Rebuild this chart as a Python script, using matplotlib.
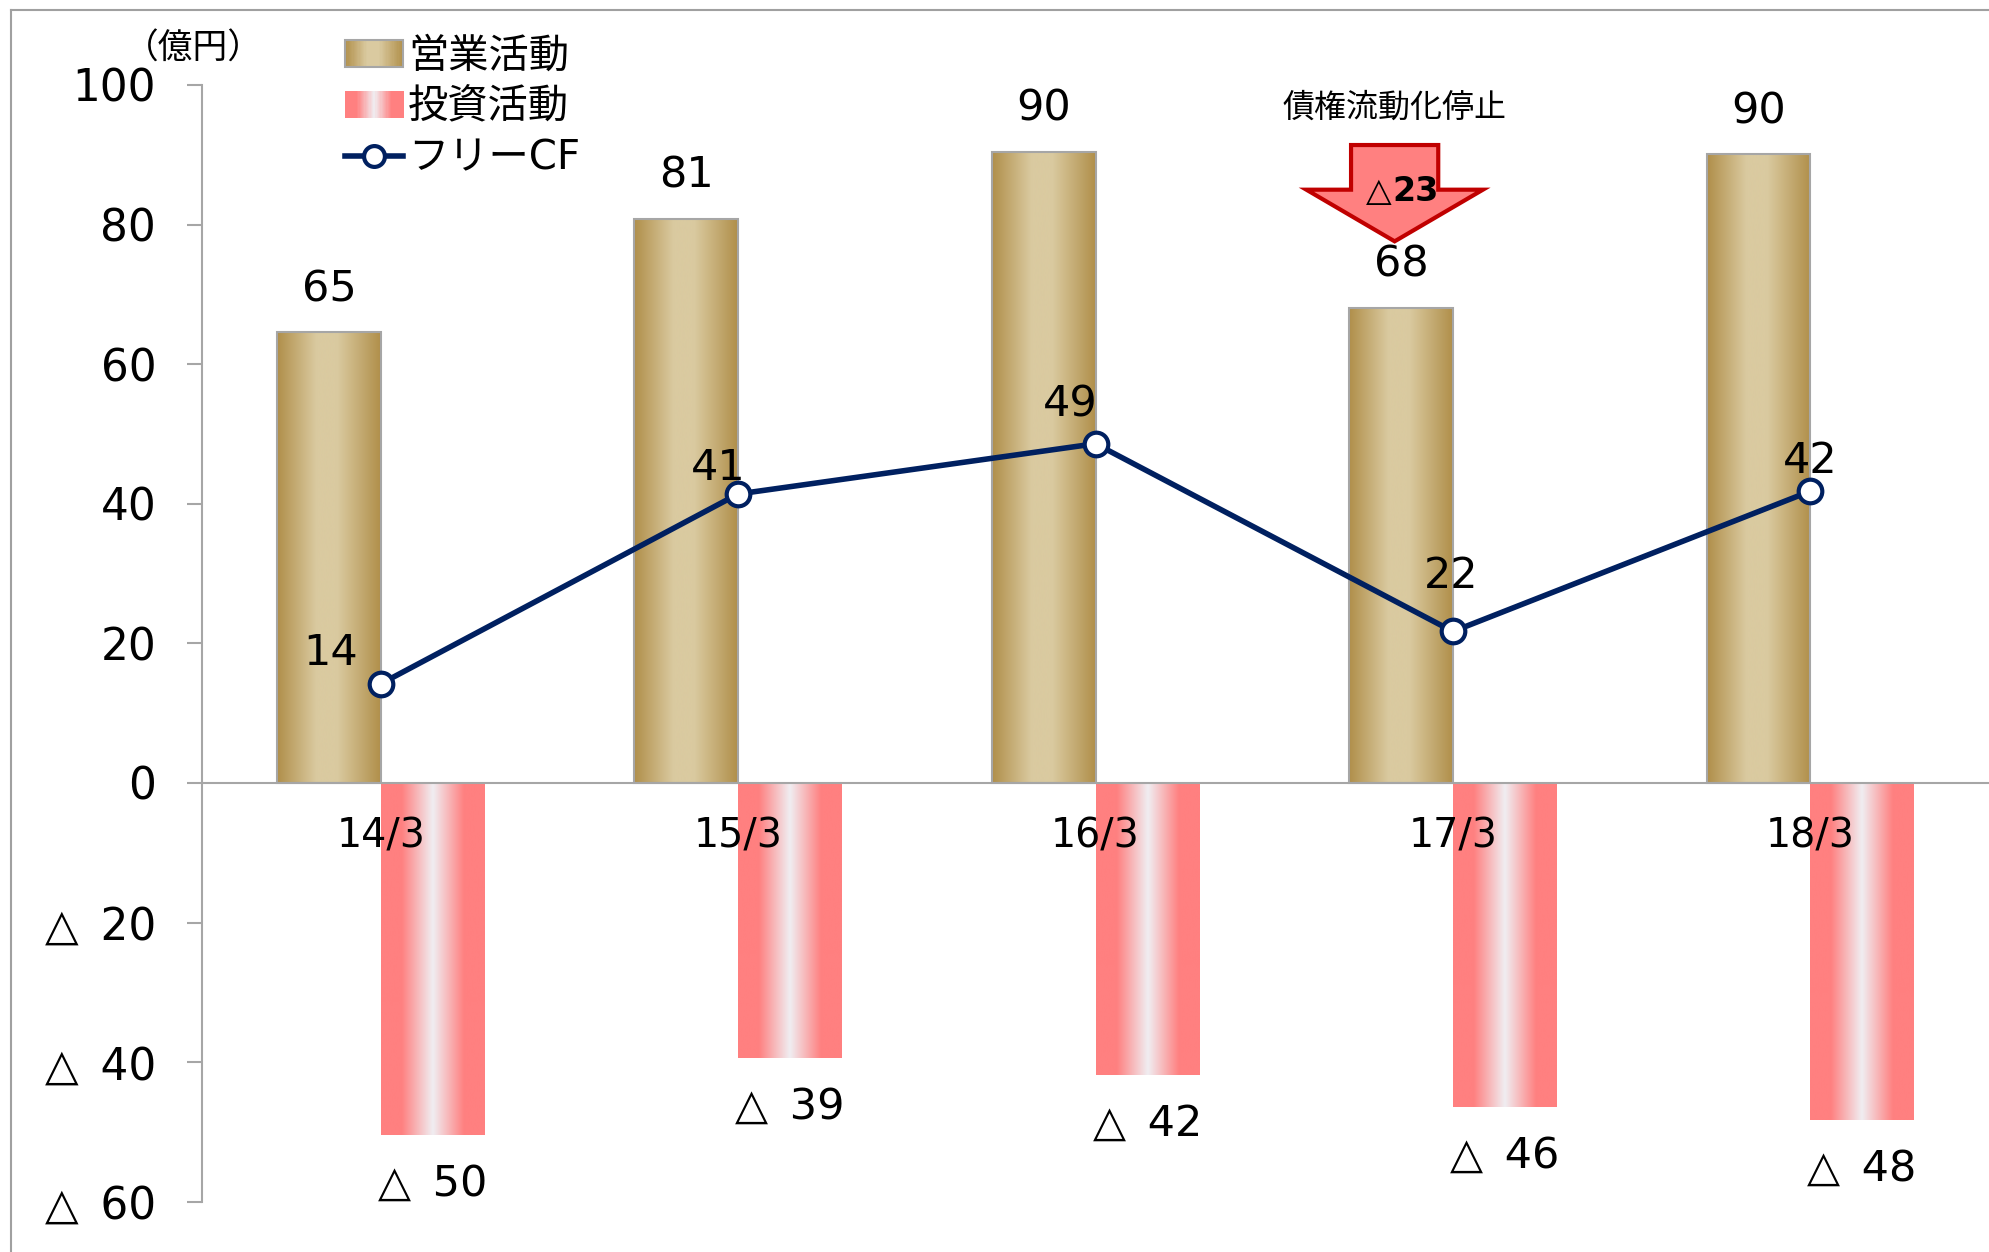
import numpy as np
import matplotlib
matplotlib.use('Agg')
import matplotlib.pyplot as plt
from matplotlib.colors import LinearSegmentedColormap
from matplotlib.patches import Rectangle, Polygon
from matplotlib.legend_handler import HandlerBase
from matplotlib.lines import Line2D

plt.rcParams['font.family'] = ['DejaVu Sans', 'Noto Sans CJK JP']

# --- data (億円) ---
periods = ['14/3', '15/3', '16/3', '17/3', '18/3']
operating = [64.6, 80.8, 90.4, 68.1, 90.1]
investing = [-50.4, -39.4, -41.8, -46.4, -48.3]
free_cf = [14.2, 41.4, 48.6, 21.7, 41.8]
y_ticks = [-60, -40, -20, 0, 20, 40, 60, 80, 100]

note_text = '債権流動化停止'
note_drop = 23
note_idx = 3

# label offsets for the free CF values (points)
fcf_offsets = [(-36, 22), (-14, 19), (-18, 28), (-1, 40), (0, 22)]

gold = LinearSegmentedColormap.from_list(
    'gold', [(0, '#B08F4A'), (0.38, '#DACAA0'), (0.58, '#DACAA0'), (1, '#B08F4A')])
pink = LinearSegmentedColormap.from_list(
    'pink', [(0, '#FF8080'), (0.2, '#FF8080'), (0.5, '#F0EEF2'), (0.8, '#FF8080'), (1, '#FF8080')])
navy = '#002060'
grey = '#A6A6A6'


def tri(v):
    # negative numbers are written with a triangle, Japanese style
    return f'△\u2002{abs(v)}' if v < 0 else f'{v}'


def grad_bar(ax, x, h, w, cmap, edge):
    ax.bar(x, h, w, color='none', edgecolor=edge, linewidth=1.5, zorder=3)
    grad = np.linspace(0, 1, 256).reshape(1, -1)
    ax.imshow(grad, cmap=cmap, extent=(x - w / 2, x + w / 2, min(0, h), max(0, h)),
              aspect='auto', zorder=2, interpolation='bicubic')


class GradientHandler(HandlerBase):
    def __init__(self, cmap, edge=None):
        super().__init__()
        self.cmap = cmap
        self.edge = edge

    def create_artists(self, legend, orig_handle, xdescent, ydescent, width, height, fontsize, trans):
        n = 48
        x0, y0 = -xdescent, -ydescent
        arts = []
        for i in range(n):
            arts.append(Rectangle((x0 + i * width / n, y0), width / n * 1.1, height,
                                  facecolor=self.cmap((i + 0.5) / n), edgecolor='none', transform=trans))
        if self.edge:
            arts.append(Rectangle((x0, y0), width, height, facecolor='none',
                                  edgecolor=self.edge, lw=1.5, transform=trans))
        return arts


W, H = 1989, 1252
fig = plt.figure(figsize=(W / 100, H / 100), dpi=100)
ax = fig.add_axes([202 / W, 1 - 1201.7 / H, 1 - 202 / W, (1201.7 - 85) / H])

x = np.arange(len(periods))
w = 0.29
for i in x:
    grad_bar(ax, i - w / 2, operating[i], w, gold, grey)
    grad_bar(ax, i + w / 2, investing[i], w, pink, 'none')

ax.axhline(0, color=grey, lw=1.5, zorder=4)
ax.plot(x, free_cf, color=navy, lw=4, marker='o', ms=17, mfc='white', mec=navy, mew=3, zorder=6)

# value labels
for i in x:
    ax.annotate(tri(round(operating[i])), (i - w / 2, operating[i]), xytext=(0, 31),
                textcoords='offset points', ha='center', va='center', fontsize=31, zorder=5)
    ax.annotate(tri(round(investing[i])), (i + w / 2, investing[i]), xytext=(0, -35),
                textcoords='offset points', ha='center', va='center', fontsize=31, zorder=5)
    ax.annotate(tri(round(free_cf[i])), (i, free_cf[i]), xytext=fcf_offsets[i],
                textcoords='offset points', ha='center', va='center', fontsize=31, zorder=5)
    ax.text(i, -7.7, periods[i], ha='center', va='center', fontsize=28.5, zorder=5)

# note: receivables securitisation stopped
cx = note_idx - w / 2 - 0.018
top = operating[note_idx]
arrow = Polygon([(cx - 0.122, top + 23.3), (cx + 0.122, top + 23.3), (cx + 0.122, top + 16.9),
                 (cx + 0.247, top + 16.9), (cx, top + 9.5), (cx - 0.247, top + 16.9),
                 (cx - 0.122, top + 16.9)], closed=True, facecolor='#FF8080',
                edgecolor='#C00000', lw=3, zorder=5)
ax.add_patch(arrow)
ax.text(cx - 0.01, top + 16.6, '△', ha='right', va='center', fontsize=24, zorder=6)
ax.text(cx - 0.005, top + 16.6, f'{note_drop}', ha='left', va='center', fontsize=24,
        fontweight='bold', zorder=6)
ax.text(cx, top + 28.6, note_text, ha='center', va='center', fontsize=23, zorder=6)

ax.set_xlim(-0.5, len(periods) - 0.5)
ax.set_ylim(-60, 100)
ax.set_yticks(y_ticks)
ax.set_yticklabels([tri(v) for v in y_ticks], fontsize=31.5)
ax.set_xticks([])
for s in ['top', 'right', 'bottom']:
    ax.spines[s].set_visible(False)
ax.spines['left'].set_color(grey)
ax.spines['left'].set_linewidth(1.5)
ax.tick_params(axis='y', length=11, width=1.5, color=grey, pad=22)

# legend
h_op = Rectangle((0, 0), 1, 1)
h_inv = Rectangle((0, 0), 1, 1)
h_fcf = Line2D([], [], color=navy, lw=4, marker='o', ms=15, mfc='white', mec=navy, mew=3)
fig.legend([h_op, h_inv, h_fcf], ['営業活動', '投資活動', 'フリーCF'],
           handler_map={h_op: GradientHandler(gold, grey), h_inv: GradientHandler(pink)},
           loc='upper left', bbox_to_anchor=(345 / W, 1 - 37 / H), frameon=False,
           fontsize=29, handlelength=1.45, handletextpad=0.12, labelspacing=0.27,
           handleheight=0.65, borderpad=0, borderaxespad=0, numpoints=1)

fig.text(193 / W, 1 - 49 / H, '（億円）', ha='center', va='center', fontsize=25)

# outer frame (clipped on the right and bottom)
fig.add_artist(Line2D([10.5 / W, 10.5 / W], [0, 1 - 9.5 / H], color='#A0A0A0', lw=1.5))
fig.add_artist(Line2D([10.5 / W, 1], [1 - 9.5 / H, 1 - 9.5 / H], color='#A0A0A0', lw=1.5))

fig.savefig('out.png', dpi=100)
